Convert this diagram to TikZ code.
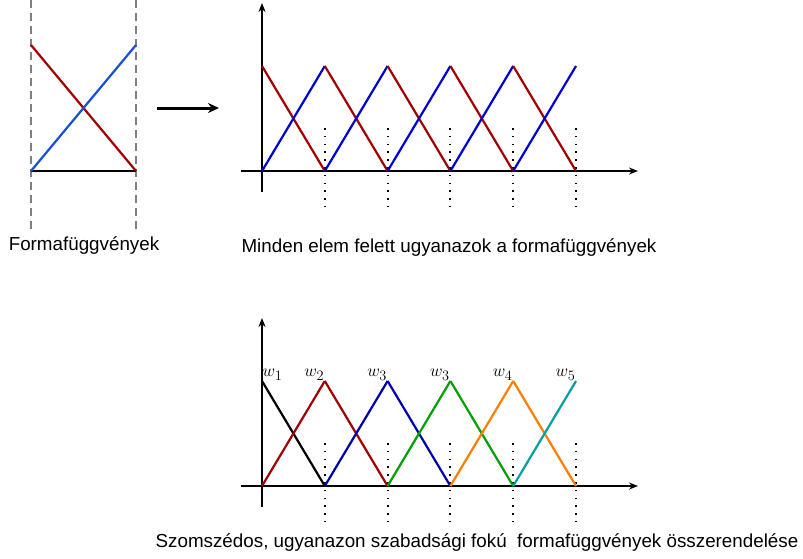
\documentclass[tikz,border=0pt]{standalone}
\usepackage{fontspec}
\setmainfont{Liberation Sans}
\usetikzlibrary{arrows.meta,positioning}
\definecolor{fnred}{RGB}{160,0,0}
\definecolor{fnblue}{RGB}{0,0,210}
\definecolor{fnlblue}{RGB}{20,80,220}
\definecolor{fndblue}{RGB}{0,0,170}
\definecolor{fngreen}{RGB}{0,160,0}
\definecolor{fnorange}{RGB}{255,125,0}
\definecolor{fnteal}{RGB}{0,160,160}

\begin{document}
\begin{tikzpicture}[
  x=1pt, y=-1pt,
  shapefn/.style={line width=2.2pt},
  axis/.style={line width=2.2pt, -{Stealth[length=9pt,width=7pt]}},
  guide/.style={line width=1.8pt, dash pattern=on 1.6pt off 6.2pt},
  border/.style={gray, line width=1.4pt, dash pattern=on 8pt off 5pt},
  caption/.style={font=\fontsize{18.8}{22}\selectfont, inner sep=0pt},
  wlabel/.style={font=\fontsize{19}{22}\selectfont, inner sep=0.5pt, anchor=south east},
]
  \useasboundingbox (0,0) rectangle (803,558);

  % single element
  \draw[border] (31,0) -- (31,232);
  \draw[border] (136,0) -- (136,232);
  \coordinate (ea) at (31,171);
  \coordinate (eb) at (136,171);
  \draw[line width=2.2pt] (ea) -- (eb);
  \draw[shapefn, fnred] (31,45) -- (eb);
  \draw[shapefn, fnlblue] (ea) -- (136,45);
  \node[caption] (single) at (84,246) {Formafüggvények};

  \coordinate (arrfrom) at (157,108);
  \coordinate (arrto) at (219,108);
  \draw[line width=3pt, -{Stealth[length=11pt,width=10pt]}] (arrfrom) -- (arrto);

  % every element, same shape functions
  \begin{scope}
    \draw[axis] (241,171) -- (638,171);
    \draw[axis] (262,192) -- (262,3);
    \foreach \x in {325,388,450,513,576}
      \draw[guide] (\x,128) -- (\x,207);
    \foreach \i in {0,...,4} {
      \draw[shapefn, fnred] (262+62.8*\i,66) -- (324.8+62.8*\i,171);
      \draw[shapefn, fnblue] (262+62.8*\i,171) -- (324.8+62.8*\i,66);
    }
  \end{scope}
  \node[caption] (every) at (449,248) {Minden elem felett ugyanazok a formafüggvények};

  % assembled by neighbouring dof
  \begin{scope}[yshift=-315pt]
    \draw[axis] (241,171) -- (638,171);
    \draw[axis] (262,192) -- (262,3);
    \foreach \x in {325,388,450,513,576}
      \draw[guide] (\x,128) -- (\x,207);
    \foreach \i/\cdown/\cup in {0/black/fnred, 1/fnred/fndblue, 2/fndblue/fngreen,
                                3/fngreen/fnorange, 4/fnorange/fnteal} {
      \draw[shapefn, \cdown] (262+62.8*\i,66) -- (324.8+62.8*\i,171);
      \draw[shapefn, \cup] (262+62.8*\i,171) -- (324.8+62.8*\i,66);
    }
    \node[wlabel, anchor=south west] (w1) at (262,66) {$w_1$};
    \foreach \i/\w in {1/2, 2/3, 3/3, 4/4, 5/5}
      \node[wlabel] (w\i) at (262+62.8*\i,66) {$w_{\w}$};
  \end{scope}
  \node[caption] (assembled) at (477,543) {Szomszédos, ugyanazon szabadsági fokú\ \ formafüggvények összerendelése};
\end{tikzpicture}
\end{document}
